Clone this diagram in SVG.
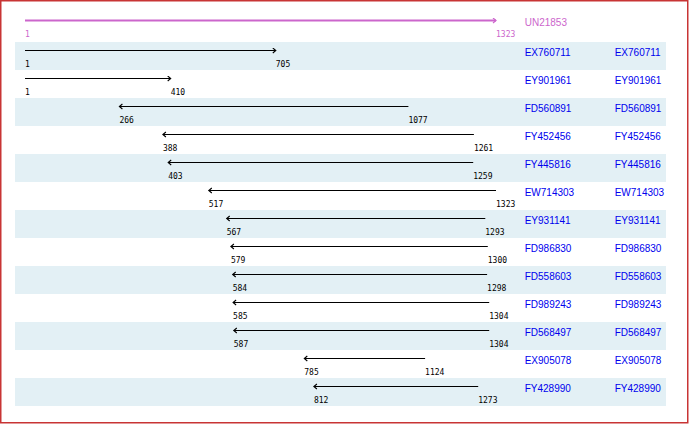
<svg xmlns="http://www.w3.org/2000/svg" width="690" height="424" viewBox="0 0 690 424">
<defs>
<style>
.stripe{fill:#e3f0f5}
.ln{stroke:#000;stroke-width:1.2;fill:none;marker-end:url(#ah)}
.num{font-family:"DejaVu Sans Mono","Liberation Mono",monospace;font-size:8px;fill:#000}
.nm{font-family:"Liberation Sans",Arial,sans-serif;font-size:10px;fill:#0000ee}
.mg{fill:#cc66cc}
</style>
<marker id="ah" markerUnits="userSpaceOnUse" markerWidth="6" markerHeight="8" refX="4" refY="3" orient="auto">
<path d="M1,0.5 L4,3 L1,5.5" fill="none" stroke="#000" stroke-width="1.1"/>
</marker>
<marker id="ahm" markerUnits="userSpaceOnUse" markerWidth="6" markerHeight="8" refX="4" refY="3" orient="auto">
<path d="M1,0.5 L4,3 L1,5.5" fill="none" stroke="#cc66cc" stroke-width="1.2"/>
</marker>
</defs>
<rect x="0" y="0" width="690" height="424" fill="#fff"/>
<rect x="0.75" y="0.75" width="687" height="422" fill="none" stroke="#c83434" stroke-width="1.5"/>

<g id="UN21853">
<line x1="25" y1="20.5" x2="496" y2="20.5" stroke="#cc66cc" stroke-width="2" marker-end="url(#ahm)"/>
<text class="num mg" x="25" y="36.7">1</text>
<text class="num mg" x="496" y="36.7">1323</text>
<text class="nm mg" x="524.7" y="26">UN21853</text>
</g>

<g id="stripes">
<rect class="stripe" x="15" y="42" width="651" height="28"/>
<rect class="stripe" x="15" y="98" width="651" height="28"/>
<rect class="stripe" x="15" y="154" width="651" height="28"/>
<rect class="stripe" x="15" y="210" width="651" height="28"/>
<rect class="stripe" x="15" y="266" width="651" height="28"/>
<rect class="stripe" x="15" y="322" width="651" height="28"/>
<rect class="stripe" x="15" y="378" width="651" height="28"/>
</g>

<g id="connectors">
<line class="ln" x1="25" y1="50.5" x2="275.8" y2="50.5"/>
<line class="ln" x1="25" y1="78.5" x2="170.7" y2="78.5"/>
<line class="ln" x1="408.4" y1="106.5" x2="119.4" y2="106.5"/>
<line class="ln" x1="473.9" y1="134.5" x2="162.9" y2="134.5"/>
<line class="ln" x1="473.2" y1="162.5" x2="168.2" y2="162.5"/>
<line class="ln" x1="496" y1="190.5" x2="208.8" y2="190.5"/>
<line class="ln" x1="485.3" y1="218.5" x2="226.7" y2="218.5"/>
<line class="ln" x1="487.8" y1="246.5" x2="230.9" y2="246.5"/>
<line class="ln" x1="487.1" y1="274.5" x2="232.7" y2="274.5"/>
<line class="ln" x1="489.2" y1="302.5" x2="233.1" y2="302.5"/>
<line class="ln" x1="489.2" y1="330.5" x2="233.8" y2="330.5"/>
<line class="ln" x1="425.1" y1="358.5" x2="304.3" y2="358.5"/>
<line class="ln" x1="478.2" y1="386.5" x2="313.9" y2="386.5"/>
</g>

<g id="EX760711"><text class="num" x="25" y="67">1</text><text class="num" x="275.8" y="67">705</text><text class="nm" x="524.7" y="56">EX760711</text><text class="nm" x="614.7" y="56">EX760711</text></g>
<g id="EY901961"><text class="num" x="25" y="95">1</text><text class="num" x="170.7" y="95">410</text><text class="nm" x="524.7" y="84">EY901961</text><text class="nm" x="614.7" y="84">EY901961</text></g>
<g id="FD560891"><text class="num" x="119.4" y="123">266</text><text class="num" x="408.4" y="123">1077</text><text class="nm" x="524.7" y="112">FD560891</text><text class="nm" x="614.7" y="112">FD560891</text></g>
<g id="FY452456"><text class="num" x="162.9" y="151">388</text><text class="num" x="473.9" y="151">1261</text><text class="nm" x="524.7" y="140">FY452456</text><text class="nm" x="614.7" y="140">FY452456</text></g>
<g id="FY445816"><text class="num" x="168.2" y="179">403</text><text class="num" x="473.2" y="179">1259</text><text class="nm" x="524.7" y="168">FY445816</text><text class="nm" x="614.7" y="168">FY445816</text></g>
<g id="EW714303"><text class="num" x="208.8" y="207">517</text><text class="num" x="496" y="207">1323</text><text class="nm" x="524.7" y="196">EW714303</text><text class="nm" x="614.7" y="196">EW714303</text></g>
<g id="EY931141"><text class="num" x="226.7" y="235">567</text><text class="num" x="485.3" y="235">1293</text><text class="nm" x="524.7" y="224">EY931141</text><text class="nm" x="614.7" y="224">EY931141</text></g>
<g id="FD986830"><text class="num" x="230.9" y="263">579</text><text class="num" x="487.8" y="263">1300</text><text class="nm" x="524.7" y="252">FD986830</text><text class="nm" x="614.7" y="252">FD986830</text></g>
<g id="FD558603"><text class="num" x="232.7" y="291">584</text><text class="num" x="487.1" y="291">1298</text><text class="nm" x="524.7" y="280">FD558603</text><text class="nm" x="614.7" y="280">FD558603</text></g>
<g id="FD989243"><text class="num" x="233.1" y="319">585</text><text class="num" x="489.2" y="319">1304</text><text class="nm" x="524.7" y="308">FD989243</text><text class="nm" x="614.7" y="308">FD989243</text></g>
<g id="FD568497"><text class="num" x="233.8" y="347">587</text><text class="num" x="489.2" y="347">1304</text><text class="nm" x="524.7" y="336">FD568497</text><text class="nm" x="614.7" y="336">FD568497</text></g>
<g id="EX905078"><text class="num" x="304.3" y="375">785</text><text class="num" x="425.1" y="375">1124</text><text class="nm" x="524.7" y="364">EX905078</text><text class="nm" x="614.7" y="364">EX905078</text></g>
<g id="FY428990"><text class="num" x="313.9" y="403">812</text><text class="num" x="478.2" y="403">1273</text><text class="nm" x="524.7" y="392">FY428990</text><text class="nm" x="614.7" y="392">FY428990</text></g>
</svg>
